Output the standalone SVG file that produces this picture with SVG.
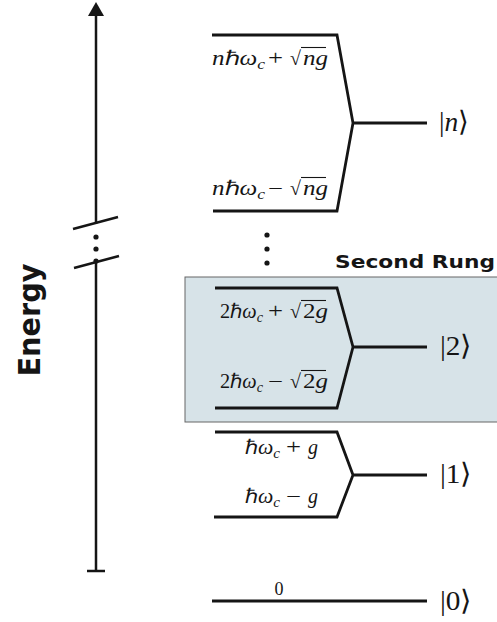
<svg xmlns="http://www.w3.org/2000/svg" width="497" height="622" viewBox="0 0 497 622">
<style>
.lvl{fill:none;stroke:#151515;stroke-width:2.8;stroke-linejoin:miter}
.ax{fill:none;stroke:#151515;stroke-width:2.5}
.ov{stroke:#151515;stroke-width:1.1}
.dot{fill:#151515}
</style>
<rect width="497" height="622" fill="#ffffff"/>
<g id="rung-box">
<rect x="185" y="277" width="320" height="145" fill="#d7e3e8" stroke="#666666" stroke-width="1"/>
</g>
<g id="axis">
<line class="ax" x1="96" y1="12" x2="96" y2="224"/>
<line class="ax" x1="96" y1="262" x2="96" y2="571"/>
<polygon points="96,2 88,16 104,16" fill="#151515"/>
<line class="ax" x1="87" y1="571" x2="105" y2="571"/>
<line class="ax" x1="73" y1="229" x2="118" y2="217"/>
<line class="ax" x1="74" y1="268" x2="119" y2="256"/>
<circle class="dot" cx="96" cy="237" r="2.6"/>
<circle class="dot" cx="96" cy="249" r="2.6"/>
<circle class="dot" cx="96" cy="261" r="2.6"/>
<text font-family="DejaVu Sans" font-weight="bold" fill="#151515" transform="translate(40,320) rotate(-90)" text-anchor="middle" font-size="30" textLength="113" lengthAdjust="spacingAndGlyphs">Energy</text>
</g>
<g id="level-n" fill="#151515">
<path class="lvl" d="M212,35 H337 L353,123 L337,211 H213 M353,123 H427"/>
<text font-family="Liberation Serif" font-size="20" x="212" y="65" textLength="53" lengthAdjust="spacingAndGlyphs"><tspan font-style="italic">n</tspan>ℏ<tspan font-style="italic">ω</tspan><tspan font-style="italic" font-size="14" dy="4">c</tspan></text>
<text font-family="Liberation Serif" font-size="20" x="268" y="65" textLength="15" lengthAdjust="spacingAndGlyphs">+</text>
<text font-family="Liberation Serif" font-size="20" x="290" y="65">√</text>
<line class="ov" x1="301" y1="47.5" x2="326" y2="47.5"/>
<text font-family="Liberation Serif" font-size="20" x="303" y="65" font-style="italic" textLength="25" lengthAdjust="spacingAndGlyphs">ng</text>
<text font-family="Liberation Serif" font-size="20" x="212" y="195" textLength="53" lengthAdjust="spacingAndGlyphs"><tspan font-style="italic">n</tspan>ℏ<tspan font-style="italic">ω</tspan><tspan font-style="italic" font-size="14" dy="4">c</tspan></text>
<text font-family="Liberation Serif" font-size="20" x="268" y="195" textLength="15" lengthAdjust="spacingAndGlyphs">−</text>
<text font-family="Liberation Serif" font-size="20" x="290" y="195">√</text>
<line class="ov" x1="301" y1="177.5" x2="326" y2="177.5"/>
<text font-family="Liberation Serif" font-size="20" x="303" y="195" font-style="italic" textLength="25" lengthAdjust="spacingAndGlyphs">ng</text>
<text font-family="Liberation Serif" font-size="28" x="439" y="131" textLength="30" lengthAdjust="spacingAndGlyphs">|<tspan font-style="italic">n</tspan>⟩</text>
</g>
<g id="dots">
<circle class="dot" cx="267" cy="235" r="2.6"/>
<circle class="dot" cx="267" cy="249" r="2.6"/>
<circle class="dot" cx="267" cy="263" r="2.6"/>
</g>
<g id="label-second-rung">
<text font-family="DejaVu Sans" font-weight="bold" fill="#151515" x="335" y="268" font-size="18" textLength="160" lengthAdjust="spacingAndGlyphs">Second Rung</text>
</g>
<g id="level-2" fill="#151515">
<path class="lvl" d="M215,288 H337 L353,347 L337,408 H215 M353,347 H427"/>
<text font-family="Liberation Serif" font-size="20" x="220" y="318" textLength="43" lengthAdjust="spacingAndGlyphs">2ℏ<tspan font-style="italic">ω</tspan><tspan font-style="italic" font-size="14" dy="4">c</tspan></text>
<text font-family="Liberation Serif" font-size="20" x="268" y="318" textLength="15" lengthAdjust="spacingAndGlyphs">+</text>
<text font-family="Liberation Serif" font-size="20" x="290" y="318">√</text>
<line class="ov" x1="301" y1="300.5" x2="326" y2="300.5"/>
<text font-family="Liberation Serif" font-size="20" x="303" y="318" textLength="25" lengthAdjust="spacingAndGlyphs">2<tspan font-style="italic">g</tspan></text>
<text font-family="Liberation Serif" font-size="20" x="220" y="388" textLength="43" lengthAdjust="spacingAndGlyphs">2ℏ<tspan font-style="italic">ω</tspan><tspan font-style="italic" font-size="14" dy="4">c</tspan></text>
<text font-family="Liberation Serif" font-size="20" x="268" y="388" textLength="15" lengthAdjust="spacingAndGlyphs">−</text>
<text font-family="Liberation Serif" font-size="20" x="290" y="388">√</text>
<line class="ov" x1="301" y1="370.5" x2="326" y2="370.5"/>
<text font-family="Liberation Serif" font-size="20" x="303" y="388" textLength="25" lengthAdjust="spacingAndGlyphs">2<tspan font-style="italic">g</tspan></text>
<text font-family="Liberation Serif" font-size="28" x="440" y="355" textLength="32" lengthAdjust="spacingAndGlyphs">|2⟩</text>
</g>
<g id="level-1" fill="#151515">
<path class="lvl" d="M215,432 H337 L353,475 L337,517 H214 M353,475 H427"/>
<text font-family="Liberation Serif" font-size="20" x="245" y="454" textLength="35" lengthAdjust="spacingAndGlyphs">ℏ<tspan font-style="italic">ω</tspan><tspan font-style="italic" font-size="14" dy="4">c</tspan></text>
<text font-family="Liberation Serif" font-size="20" x="286" y="454" textLength="15" lengthAdjust="spacingAndGlyphs">+</text>
<text font-family="Liberation Serif" font-size="20" x="308" y="454" font-style="italic">g</text>
<text font-family="Liberation Serif" font-size="20" x="245" y="503" textLength="35" lengthAdjust="spacingAndGlyphs">ℏ<tspan font-style="italic">ω</tspan><tspan font-style="italic" font-size="14" dy="4">c</tspan></text>
<text font-family="Liberation Serif" font-size="20" x="286" y="503" textLength="15" lengthAdjust="spacingAndGlyphs">−</text>
<text font-family="Liberation Serif" font-size="20" x="308" y="503" font-style="italic">g</text>
<text font-family="Liberation Serif" font-size="28" x="440" y="483" textLength="32" lengthAdjust="spacingAndGlyphs">|1⟩</text>
</g>
<g id="level-0" fill="#151515">
<path class="lvl" d="M212,601 H427"/>
<text font-family="Liberation Serif" x="279" y="595" text-anchor="middle" font-size="18">0</text>
<text font-family="Liberation Serif" font-size="28" x="440" y="610" textLength="32" lengthAdjust="spacingAndGlyphs">|0⟩</text>
</g>
</svg>
